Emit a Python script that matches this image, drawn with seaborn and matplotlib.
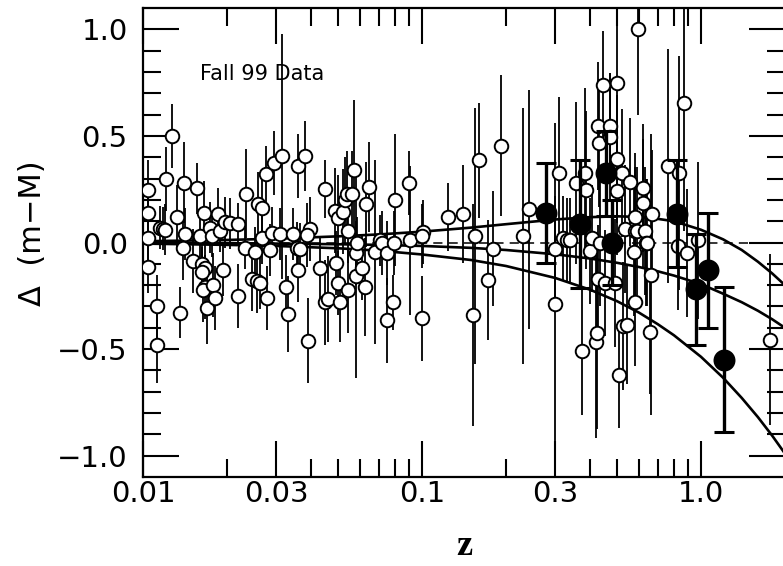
import pandas as pd
import seaborn as sns
import matplotlib.pyplot as plt
from matplotlib.ticker import FixedLocator, FixedFormatter, NullFormatter

# Individual SNe Ia (open circles): redshift, residual, error
z_open = [0.0104, 0.0104, 0.0104, 0.0104, 0.0112, 0.0112, 0.0115, 0.0118, 0.0120, 0.0121,
          0.0127, 0.0132, 0.0136, 0.0140, 0.0141, 0.0139, 0.0151, 0.0156, 0.0160, 0.0163,
          0.0165, 0.0167, 0.0163, 0.0167, 0.0164, 0.0178, 0.0170, 0.0181, 0.0174, 0.0177,
          0.0186, 0.0189, 0.0194, 0.0197, 0.0205, 0.0219, 0.0219, 0.0232, 0.0234, 0.0246,
          0.0252, 0.0256, 0.0258, 0.0263, 0.0267, 0.0267, 0.0276, 0.0278, 0.0285, 0.0290,
          0.0295, 0.0310, 0.0315, 0.0326, 0.0331, 0.0345, 0.0359, 0.0359, 0.0357, 0.0381,
          0.0390, 0.0397, 0.0387, 0.0365,
          0.0431, 0.0449, 0.0449, 0.0460, 0.0488, 0.0500, 0.0492, 0.0500, 0.0508, 0.0521,
          0.0530, 0.0539, 0.0543, 0.0543, 0.0561, 0.0570, 0.0580, 0.0580, 0.0585, 0.0609,
          0.0625, 0.0630, 0.0646, 0.0679, 0.0707, 0.0719, 0.0749, 0.0749, 0.0787, 0.0800,
          0.0794, 0.0898, 0.0906, 0.1000, 0.1008, 0.1000,
          0.124, 0.140, 0.152, 0.155, 0.160, 0.172, 0.180, 0.192, 0.230, 0.242,
          0.300, 0.300, 0.310,
          0.320, 0.331, 0.339, 0.356, 0.375, 0.384, 0.387, 0.400, 0.407, 0.420,
          0.424, 0.427, 0.431, 0.427, 0.435, 0.445, 0.453, 0.472, 0.472, 0.492,
          0.500, 0.500, 0.500, 0.508, 0.521, 0.525, 0.534, 0.543, 0.557, 0.575,
          0.580, 0.580, 0.580, 0.590, 0.595, 0.620, 0.620, 0.630, 0.635, 0.640,
          0.656, 0.662, 0.667, 0.762, 0.834, 0.827, 0.869, 0.891, 0.975, 1.767]
dm_open = [0.245, 0.14, 0.02, -0.115, -0.30, -0.48, 0.07, 0.065, 0.06, 0.30,
           0.50, 0.12, -0.33, 0.28, 0.04, -0.025, -0.085, 0.255, 0.03, -0.10,
           0.14, -0.12, -0.14, -0.21, -0.225, -0.20, -0.305, -0.26, 0.07, 0.03,
           0.135, 0.055, -0.13, 0.095, 0.09, 0.085, -0.25, -0.025, 0.23, -0.17,
           -0.045, -0.18, 0.18, -0.19, 0.16, 0.02, 0.32, -0.26, -0.035, 0.047,
           0.375, 0.04, 0.405, -0.21, -0.335, 0.04, 0.36, -0.13, -0.025, 0.405,
           -0.46, 0.065, 0.035, -0.03,
           -0.12, 0.25, -0.28, -0.265, 0.15, 0.115, -0.095, -0.19, -0.28, 0.145,
           0.20, 0.23, 0.055, -0.225, 0.23, 0.34, -0.155, -0.05, 0.0, -0.12,
           -0.21, 0.18, 0.26, -0.045, 0.01, 0.0, -0.05, -0.365, -0.28, 0.20,
           0.0, 0.28, 0.01, -0.355, 0.05, 0.03,
           0.12, 0.135, -0.34, 0.03, 0.385, -0.175, -0.03, 0.455, 0.03, 0.155,
           -0.29, -0.03, 0.325,
           0.02, 0.01, 0.01, 0.28, -0.51, 0.325, 0.245, -0.04, 0.02, -0.465,
           -0.425, 0.545, 0.465, -0.17, 0.0, 0.74, -0.19, 0.545, 0.495, -0.19,
           0.75, 0.39, 0.24, -0.62, 0.325, -0.39, 0.065, -0.385, 0.285, -0.045,
           -0.28, 0.12, 0.055, 0.055, 1.00, 0.255, 0.185, 0.055, 0.0, 0.0,
           -0.42, -0.15, 0.135, 0.36, 0.325, -0.015, 0.655, -0.05, 0.01, -0.455]
err_open = [0.14, 0.12, 0.12, 0.12, 0.15, 0.18, 0.10, 0.10, 0.12, 0.15,
            0.15, 0.15, 0.12, 0.19, 0.12, 0.15, 0.15, 0.12, 0.10, 0.12,
            0.15, 0.12, 0.12, 0.15, 0.15, 0.15, 0.17, 0.15, 0.12, 0.10,
            0.12, 0.10, 0.12, 0.12, 0.12, 0.10, 0.15, 0.10, 0.21, 0.15,
            0.12, 0.15, 0.15, 0.12, 0.15, 0.12, 0.135, 0.15, 0.12, 0.12,
            0.15, 0.12, 0.575, 0.15, 0.18, 0.12, 0.15, 0.15, 0.12, 0.165,
            0.20, 0.15, 0.15, 0.12,
            0.15, 0.135, 0.20, 0.20, 0.20, 0.20, 0.15, 0.15, 0.185, 0.20,
            0.20, 0.20, 0.15, 0.20, 0.20, 0.33, 0.48, 0.15, 0.12, 0.15,
            0.23, 0.20, 0.21, 0.43, 0.12, 0.15, 0.15, 0.20, 0.13, 0.31,
            0.15, 0.15, 0.35, 0.20, 0.15, 0.15,
            0.16, 0.23, 0.52, 0.60, 0.27, 0.28, 0.27, 0.33, 0.60, 0.56,
            0.85, 0.25, 0.36,
            0.20, 0.20, 0.20, 0.38, 0.30, 0.40, 0.37, 0.25, 0.25, 0.45,
            0.45, 0.30, 0.30, 0.25, 0.30, 0.25, 0.25, 0.25, 0.30, 0.30,
            0.30, 0.30, 0.30, 0.25, 0.30, 0.30, 0.30, 0.28, 0.30, 0.30,
            0.30, 0.30, 0.30, 0.30, 0.40, 0.30, 0.30, 0.30, 0.30, 0.30,
            0.29, 0.66, 0.30, 0.55, 0.55, 0.30, 0.60, 0.30, 0.37, 0.40]

# Binned / high-z points (filled circles)
z_bin = [0.278, 0.368, 0.457, 0.480, 0.820, 0.960, 1.060, 1.210]
dm_bin = [0.14, 0.085, 0.325, 0.0, 0.135, -0.22, -0.13, -0.55]
err_bin = [0.235, 0.30, 0.20, 0.20, 0.25, 0.26, 0.27, 0.34]

# Model curves, relative to the empty universe
z_model = [0.01, 0.02, 0.03, 0.05, 0.07, 0.1, 0.15, 0.2, 0.3, 0.4,
           0.5, 0.6, 0.7, 0.8, 1.0, 1.2, 1.4, 1.6, 1.8, 2.0]
dm_lambda = [0.006, 0.012, 0.018, 0.029, 0.038, 0.051, 0.070, 0.086, 0.108, 0.119,
             0.123, 0.120, 0.111, 0.100, 0.060, 0.015, -0.035, -0.090, -0.145, -0.200]
dm_openm = [-0.002, -0.003, -0.005, -0.008, -0.011, -0.016, -0.025, -0.035, -0.055, -0.075,
            -0.095, -0.115, -0.135, -0.155, -0.195, -0.240, -0.280, -0.320, -0.360, -0.400]
dm_eds = [-0.005, -0.011, -0.016, -0.027, -0.038, -0.056, -0.082, -0.110, -0.166, -0.221,
          -0.275, -0.329, -0.383, -0.435, -0.536, -0.634, -0.729, -0.819, -0.906, -0.990]

x_ticks = [0.01, 0.03, 0.1, 0.3, 1.0]
x_ticklabels = ["0.01", "0.03", "0.1", "0.3", "1.0"]
x_minor = [0.02, 0.04, 0.05, 0.06, 0.07, 0.08, 0.09, 0.2, 0.4, 0.5, 0.6, 0.7, 0.8, 0.9, 2.0]
y_ticks = [-1.0, -0.5, 0.0, 0.5, 1.0]
y_ticklabels = ["\u22121.0", "\u22120.5", "0.0", "0.5", "1.0"]
y_minor = [-1.0 + 0.1 * i for i in range(21)]


def plot_residuals():
    """
    Hubble diagram residuals vs redshift.
    :return: Saves out.png
    """
    fig = plt.figure(figsize=(7.83, 5.66), dpi=100)
    ax = fig.add_axes([0.1826, 0.1572, 0.8199, 0.8286])
    ax.set_xscale("log")

    # Error bars under the circles
    ax.errorbar(z_open, dm_open, yerr=err_open, fmt="none", ecolor="black",
                elinewidth=1.3, zorder=2)

    # Model curves and empty universe reference
    models = pd.DataFrame({"z": z_model * 3,
                           "dm": dm_lambda + dm_openm + dm_eds,
                           "model": ["lambda"] * len(z_model) + ["open"] * len(z_model) + ["eds"] * len(z_model)})
    sns.lineplot(data=models, x="z", y="dm", units="model", estimator=None, color="black",
                 linewidth=1.9, legend=False, ax=ax, zorder=3)
    ax.axhline(0.0, color="black", linewidth=1.1, linestyle=(0, (6, 4)), zorder=3)

    # Open circles
    sns.scatterplot(x=z_open, y=dm_open, marker="o", s=95, facecolor="white",
                    edgecolor="black", linewidth=1.4, ax=ax, zorder=4)

    # Filled circles with capped bars
    ax.errorbar(z_bin, dm_bin, yerr=err_bin, fmt="none", ecolor="black",
                elinewidth=2.4, capsize=7, capthick=2.2, zorder=5)
    sns.scatterplot(x=z_bin, y=dm_bin, marker="o", s=250, color="black",
                    edgecolor="black", linewidth=0, ax=ax, zorder=6)

    ax.set_xlim(0.01, 2.0)
    ax.set_ylim(-1.1, 1.1)

    ax.xaxis.set_major_locator(FixedLocator(x_ticks))
    ax.xaxis.set_major_formatter(FixedFormatter(x_ticklabels))
    ax.xaxis.set_minor_locator(FixedLocator(x_minor))
    ax.xaxis.set_minor_formatter(NullFormatter())
    ax.yaxis.set_major_locator(FixedLocator(y_ticks))
    ax.yaxis.set_major_formatter(FixedFormatter(y_ticklabels))
    ax.yaxis.set_minor_locator(FixedLocator(y_minor))

    ax.tick_params(which="major", direction="in", length=26, width=1.5,
                   top=True, right=True, labelsize=21, color="black", labelcolor="black")
    ax.tick_params(which="minor", direction="in", length=13, width=1.5,
                   top=True, right=True, color="black")
    ax.tick_params(axis="x", which="major", pad=2)
    ax.tick_params(axis="y", which="major", pad=11)
    for spine in ax.spines.values():
        spine.set_linewidth(1.6)
        spine.set_color("black")

    ax.set_ylabel("\u0394  (m\u2212M)", fontsize=22, color="black")
    ax.yaxis.set_label_coords(-0.15, 0.52)
    ax.set_xlabel("z", fontsize=26, family="Liberation Serif", fontweight="bold", color="black")
    ax.xaxis.set_label_coords(0.5, -0.113)

    ax.text(0.0888, 0.8465, "Fall 99 Data", transform=ax.transAxes, fontsize=15,
            ha="left", va="baseline", color="black")

    fig.savefig("out.png", dpi=100)


if __name__ == "__main__":
    sns.set_theme(style="ticks")
    plt.rcParams["font.family"] = ["DejaVu Sans"]
    plt.rcParams["text.color"] = "black"
    plot_residuals()
